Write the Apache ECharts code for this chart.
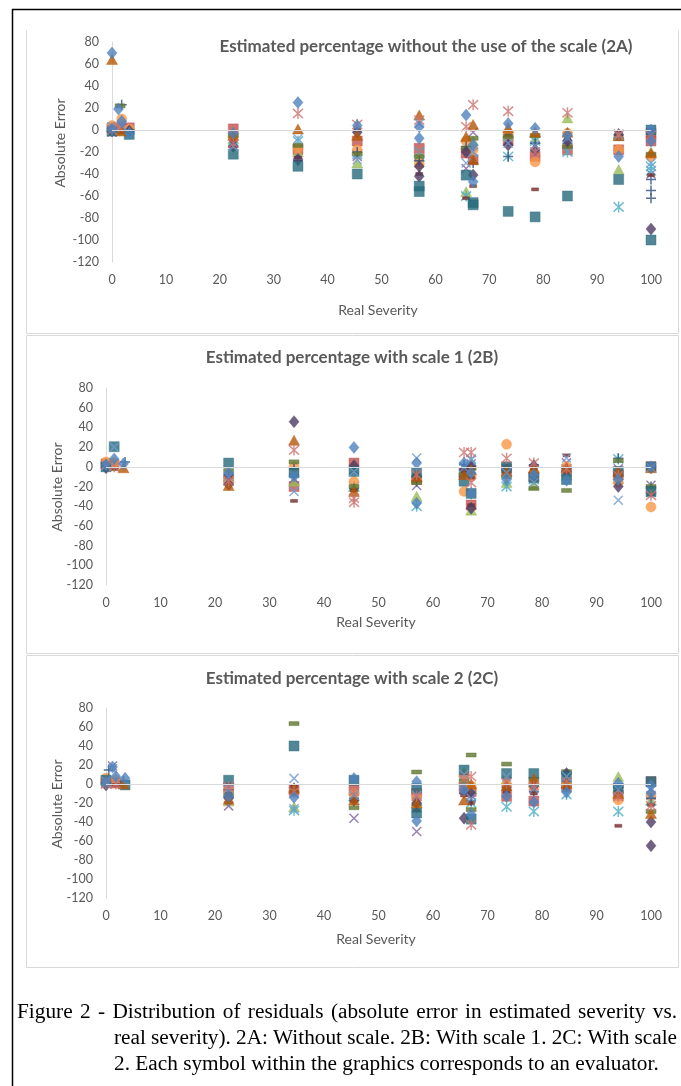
<!DOCTYPE html>
<html><head><meta charset="utf-8">
<script src="https://cdn.jsdelivr.net/npm/echarts@6/dist/echarts.min.js"></script>
<style>html,body{margin:0;padding:0;background:#fff}#c{width:681px;height:1086px}</style>
</head><body><div id="c"></div>
<script>
// ---------- axis ticks ----------
const xTicks = [0,10,20,30,40,50,60,70,80,90,100];
const yTicks = [-120,-100,-80,-60,-40,-20,0,20,40,60,80];

// ---------- titles ----------
const panelTitles = [
  'Estimated percentage without the use of the scale (2A)',
  'Estimated percentage with scale 1 (2B)',
  'Estimated percentage with scale 2 (2C)'
];
const xAxisTitle = 'Real Severity';
const yAxisTitle = 'Absolute Error';
const captionLines = [
  'Figure 2 - Distribution of residuals (absolute error in estimated severity vs.',
  'real severity). 2A: Without scale. 2B: With scale 1. 2C: With scale',
  '2. Each symbol within the graphics corresponds to an evaluator.'
];

// ---------- 2A : [real severity, absolute error] per evaluator ----------
const A_e1  = [[0,70],[1.2,19],[1.8,8],[0,1],[3.2,-3],[22.5,-3],[34.5,25],[45.5,4],[57,3],[57,-7.5],[65.7,13.6],[67,-13.6],[67,-47],[73.5,6],[78.5,1.5],[84.5,-5],[94,-24],[100,0],[100,-10]];
const A_e2  = [[0,2],[1.8,1],[3.2,2],[22.5,1],[34.5,-18],[45.5,-10],[57,-16.6],[65.7,-21],[67,-27],[73.5,-10],[78.5,-24],[84.5,-18],[94,-18],[100,-10],[100,-3]];
const A_e3  = [[0,3],[1.8,0],[22.5,-8],[34.5,-20],[45.5,-30],[57,-24],[65.7,-56],[67,-10],[73.5,-5],[78.5,-8],[84.5,11],[94,-36],[100,-20]];
const A_e4  = [[0,-2],[1.8,2],[22.5,-12],[34.5,-22],[45.5,-24],[57,-30],[65.7,-35],[67,-2],[73.5,-9],[78.5,-15],[84.5,-6],[94,-4],[100,-40]];
const A_e5  = [[0,1],[3.2,0],[22.5,-10],[34.5,-10],[45.5,-22],[57,-20],[65.7,-60],[67,-20],[73.5,-24],[78.5,-10],[84.5,-20],[94,-70],[100,-33],[100,-37]];
const A_e6  = [[0,4],[1.8,10],[3.2,1],[22.5,-6],[34.5,-17],[45.5,-18],[57,-31],[65.7,-10],[67,-18],[73.5,-3],[78.5,-29],[84.5,-3],[94,-18],[100,-24]];
const A_e7  = [[1.8,23],[0,-1],[22.5,-15],[34.5,-28],[45.5,-20],[57,-28],[65.7,-15],[67,-30],[73.5,-24],[78.5,-12],[84.5,-12],[94,-5],[100,-45],[100,-55],[100,-62]];
const A_e8  = [[1.8,-2],[22.5,-10],[34.5,-25],[45.5,0],[57,-40],[65.7,-62],[67,-51],[73.5,-4.8],[78.5,-54],[84.5,-9],[94,-3],[100,-41]];
const A_e9  = [[1.5,22],[0,0],[22.5,-5],[34.5,-14],[45.5,-22],[57,-24],[65.7,-16.6],[67,-7.5],[73.5,-6],[78.5,-5],[84.5,-15],[94,-8],[100,-22]];
const A_e10 = [[0,-1],[3.2,-1],[22.5,-15],[34.5,-27],[45.5,-2],[57,-33],[57,-42],[65.7,-20],[67,-41],[73.5,-13.6],[78.5,-18],[84.5,-10],[94,-4],[100,-90]];
const A_e11 = [[0,-1],[3.2,-4],[22.5,-22],[34.5,-33],[45.5,-40],[57,-51],[57,-56],[65.7,-41],[67,-66],[67,-68],[73.5,-74],[78.5,-79],[84.5,-60],[94,-45],[100,0],[100,-100]];
const A_e12 = [[0,64],[1.8,-1],[22.5,-5],[34.5,1],[45.5,-5],[57,13.6],[65.7,-6],[67,5],[67,-27],[73.5,2],[78.5,-2],[84.5,-2],[94,-5],[100,-21]];
const A_e13 = [[0,3],[1.8,4],[22.5,-15],[34.5,-8],[45.5,-27],[57,6],[65.7,-30],[67,-20],[73.5,-12],[78.5,-14],[84.5,-7],[94,-5],[100,-30]];
const A_e14 = [[0,0],[1.2,3],[22.5,-12],[34.5,15],[45.5,5],[57,9],[57,-18],[65.7,3],[67,23],[73.5,17],[78.5,-20],[84.5,15.6],[94,-4],[100,-5]];

// ---------- 2B ----------
const B_e1  = [[0,2],[1.5,8],[3.2,3],[22.5,-6.4],[34.5,-9.7],[45.5,19.7],[57,3.8],[57,-37],[65.7,3.8],[67,-6.4],[67,-27],[73.5,-13],[78.5,-8],[84.5,-13.6],[94,-13],[100,0]];
const B_e2  = [[0,3],[1.5,2],[22.5,-12],[34.5,-20],[45.5,3.8],[57,-13],[65.7,-6.4],[67,-38.8],[73.5,-2],[78.5,-10],[84.5,-5],[94,-8],[100,0]];
const B_e3  = [[0,4],[1.5,1],[22.5,-10],[34.5,-14.6],[45.5,-20],[57,-30],[65.7,-2],[67,-44],[73.5,-16],[78.5,-18],[84.5,-8],[94,-12],[100,-22]];
const B_e4  = [[0,1],[22.5,-13],[34.5,-12],[45.5,-3],[57,-19],[65.7,-8],[67,3],[73.5,-5],[78.5,-4],[84.5,4],[94,-2],[100,-18.7]];
const B_e5  = [[0,0],[22.5,-14],[34.5,-5],[45.5,-20],[57,-40],[65.7,0],[67,8],[73.5,-20],[78.5,-13],[84.5,-4],[94,8],[100,-26]];
const B_e6  = [[0,5],[1.5,4],[22.5,-13],[34.5,0],[45.5,-15],[57,-13],[65.7,-25],[67,-10],[73.5,22.8],[78.5,-6],[84.5,0],[94,-16],[100,-40.8]];
const B_e7  = [[3.5,5],[22.5,-8],[34.5,-2],[45.5,-22],[57,-15],[65.7,2],[67,-3],[73.5,-6],[78.5,2],[84.5,-2],[94,8.6],[100,-20]];
const B_e8  = [[1.5,-2],[22.5,-11],[34.5,-34.6],[45.5,-24],[57,-8],[65.7,-4],[67,-11],[67,-39],[73.5,-8],[78.5,-2],[84.5,11.6],[94,-10],[100,-28]];
const B_e9  = [[0,3],[22.5,-4],[34.5,5],[45.5,-20],[57,-16],[65.7,-8],[67,-1],[73.5,-10],[78.5,-22],[84.5,-24],[94,6.2],[100,-20]];
const B_e10 = [[0,-1],[22.5,-18],[34.5,45.8],[45.5,1],[57,-10],[65.7,-2.9],[67,1],[67,-42],[73.5,-3],[78.5,1],[84.5,-4.7],[94,-20],[100,-1]];
const B_e11 = [[1.5,20.4],[0,0],[22.5,3.8],[34.5,-6],[45.5,-4.7],[57,-6.4],[65.7,-14.6],[67,-27],[73.5,0],[78.5,-11],[84.5,-13],[94,-4.7],[100,0],[100,-25]];
const B_e12 = [[3.2,-1],[22.5,-19],[34.5,27],[45.5,-25],[57,-10],[65.7,-8],[67,-3],[73.5,-4.7],[78.5,-1.4],[84.5,-1],[94,-4.7],[100,-1]];
const B_e13 = [[1.5,20],[0,1],[22.5,-9.7],[34.5,-25],[45.5,-4.7],[57,9],[65.7,-1],[67,7],[73.5,-6],[78.5,-16],[84.5,9],[94,-34],[100,-1]];
const B_e14 = [[1.5,0],[0,2],[22.5,-14.6],[34.5,17],[45.5,-32],[45.5,-36],[57,-8],[65.7,14.6],[67,14.6],[67,-16],[73.5,8.6],[78.5,3.8],[84.5,-2],[94,-9],[100,-29]];

// ---------- 2C ----------
const C_e1  = [[0,2],[1.2,18],[1.8,8],[3.5,6],[22.5,-13],[34.5,-14],[45.5,5.9],[57,2.5],[57,-39],[65.7,-6.3],[67,-32],[73.5,-13],[78.5,-19],[84.5,-8.8],[94,0.7],[100,-1.8],[100,-9.8]];
const C_e2  = [[0,3],[1.8,1],[22.5,-4],[34.5,-6],[45.5,-6.3],[57,-9.8],[65.7,-4],[67,-8],[73.5,-13],[78.5,-18],[84.5,-3],[94,-12],[100,2.5]];
const C_e3  = [[0,5],[22.5,-18],[34.5,-24],[45.5,-12],[57,-18],[65.7,13],[67,-5],[73.5,5],[78.5,2],[84.5,4],[94,7.8],[100,-16.8]];
const C_e4  = [[1.2,19],[0,2],[22.5,-23],[34.5,-10],[45.5,-36],[57,-50],[65.7,-5],[67,-12],[73.5,3],[78.5,-5],[84.5,6],[94,-6],[100,-12]];
const C_e5  = [[0,1],[22.5,-10],[34.5,-28],[45.5,-14],[57,-25],[65.7,2],[67,-20],[73.5,-24],[78.5,-29],[84.5,-11],[94,-29],[100,-18]];
const C_e6  = [[0,6],[1.8,4],[22.5,-8],[34.5,-6],[45.5,-10],[57,-15],[65.7,7.8],[67,-2],[73.5,-1],[78.5,-3],[84.5,-1.8],[94,-16.8],[100,-12]];
const C_e7  = [[0.5,14.7],[3.2,3],[22.5,-6],[34.5,-4],[45.5,-15],[57,-22],[65.7,-10],[67,-18],[73.5,-6],[78.5,-8],[84.5,-2],[94,-4],[100,-15]];
const C_e8  = [[1.8,-1],[22.5,-10],[34.5,-2],[45.5,-18],[57,-28],[65.7,-12],[67,-20],[73.5,-8],[78.5,-10],[84.5,-4.2],[94,-44],[100,-22]];
const C_e9  = [[0,2],[22.5,-12],[34.5,63.6],[45.5,-25],[57,12.6],[65.7,3],[67,30.5],[67,-27],[73.5,21],[78.5,5],[84.5,13],[94,-2],[100,-29]];
const C_e10 = [[0,-1],[22.5,-15],[34.5,-8],[45.5,-17],[57,-20],[65.7,-36],[67,-10],[73.5,-4],[78.5,-2],[84.5,11],[94,-8.8],[100,-40],[100,-65]];
const C_e11 = [[3.5,-1],[0,4],[22.5,4],[34.5,40],[45.5,4],[57,-4.6],[57,-30.5],[65.7,14.7],[67,-37],[73.5,11],[78.5,11],[84.5,7.8],[94,-4.6],[100,2.5]];
const C_e12 = [[3.2,0],[22.5,-16],[34.5,-4.6],[45.5,-16.8],[57,-20],[65.7,-16.8],[67,0],[73.5,-2],[78.5,5.9],[84.5,0.7],[94,-10],[100,-31]];
const C_e13 = [[1.2,16],[0,3],[22.5,-5],[34.5,5.9],[34.5,-26],[45.5,-12],[57,-12],[65.7,10],[67,-15],[73.5,7.8],[78.5,-5],[84.5,8],[94,-6],[100,-5]];
const C_e14 = [[1.8,0],[0,0],[22.5,-2.8],[34.5,-8],[45.5,-8],[57,-13],[65.7,5],[67,7.8],[67,-43],[73.5,1.4],[78.5,-2],[84.5,2],[94,-13],[100,-23]];

const panelData = [
  [A_e1,A_e2,A_e3,A_e4,A_e5,A_e6,A_e7,A_e8,A_e9,A_e10,A_e11,A_e12,A_e13,A_e14],
  [B_e1,B_e2,B_e3,B_e4,B_e5,B_e6,B_e7,B_e8,B_e9,B_e10,B_e11,B_e12,B_e13,B_e14],
  [C_e1,C_e2,C_e3,C_e4,C_e5,C_e6,C_e7,C_e8,C_e9,C_e10,C_e11,C_e12,C_e13,C_e14]
];

// ---------- marker styles (Excel automatic markers) ----------
const SYM_X = 'path://M0,0L10,10M10,0L0,10';
const SYM_STAR = 'path://M0,1L10,11M10,1L0,11M5,0L5,12';
const SYM_PLUS = 'path://M5,0L5,10M0,5L10,5';
const markers = [
  {symbol:'diamond', color:'#4F81BD', size:[10,12]},
  {symbol:'rect', color:'#C0504D', size:10},
  {symbol:'triangle', color:'#9BBB59', size:[11,10]},
  {symbol:SYM_X, color:'#8064A2', size:9, stroke:true},
  {symbol:SYM_STAR, color:'#4BACC6', size:[10,11], stroke:true},
  {symbol:'circle', color:'#F79646', size:10},
  {symbol:SYM_PLUS, color:'#2C4D75', size:10, stroke:true},
  {symbol:'rect', color:'#772C2A', size:[7,3]},
  {symbol:'rect', color:'#5F7530', size:[10,4]},
  {symbol:'diamond', color:'#4D3B62', size:[10,12]},
  {symbol:'rect', color:'#276A7C', size:10},
  {symbol:'triangle', color:'#B65708', size:[11,10]},
  {symbol:SYM_X, color:'#729ACA', size:9, stroke:true},
  {symbol:SYM_STAR, color:'#CD7371', size:[10,11], stroke:true}
];

// ---------- layout ----------
const grids = [
  {left:112, top:42, width:539, height:220},
  {left:106, top:388, width:545, height:197},
  {left:106, top:708, width:545, height:190}
];
const AX = '#595959';
const LABEL_FONT = 'Lato, "Open Sans", sans-serif';

const chart = echarts.init(document.getElementById('c'), null, {renderer:'canvas', width:681, height:1086});

const xAxes = [], yAxes = [], series = [];
grids.forEach((g, i) => {
  xAxes.push({
    type:'value', gridIndex:i, min:xTicks[0], max:xTicks[xTicks.length-1], interval:xTicks[1]-xTicks[0],
    axisLine:{show:false}, axisTick:{show:false}, splitLine:{show:false},
    axisLabel:{color:AX, fontSize:12.5, fontFamily:LABEL_FONT, margin:11}
  });
  yAxes.push({
    type:'value', gridIndex:i, min:yTicks[0], max:yTicks[yTicks.length-1], interval:yTicks[1]-yTicks[0],
    axisLine:{show:true, lineStyle:{color:'#D9D9D9', width:1}}, axisTick:{show:false}, splitLine:{show:false},
    axisLabel:{color:AX, fontSize:12.5, fontFamily:LABEL_FONT, margin:13}
  });
  // zero line
  series.push({
    type:'line', xAxisIndex:i, yAxisIndex:i, data:[], silent:true, z:1,
    markLine:{silent:true, symbol:'none', label:{show:false},
      lineStyle:{color:'#D9D9D9', width:1, type:'solid'}, data:[{yAxis:0}], animation:false}
  });
  const order = [1,2,3,4,5,6,7,8,9,10,11,12,13,0];
  order.forEach(k => {
    const m = markers[k];
    series.push({
      type:'scatter', xAxisIndex:i, yAxisIndex:i, clip:false,
      name:'Evaluator ' + (k+1),
      symbol:m.symbol, symbolSize:m.size, symbolKeepAspect:false,
      itemStyle: m.stroke ? {color:'rgba(0,0,0,0)', borderColor:m.color, borderWidth:1.5}
                          : {color:m.color, borderColor:m.color, borderWidth:0.5},
      data: panelData[i][k],
      z: 3
    });
  });
});

const TITLE_FONT = 'bold 17px Lato, "Open Sans", sans-serif';
const AXT_FONT = '14px Lato, "Open Sans", sans-serif';
const panelBoxes = [
  {x:26, y:30, w:652, h:303, noTop:true},
  {x:26, y:335, w:652, h:318},
  {x:26, y:655, w:652, h:312}
];
const titlePos = [[426,47],[352,358],[352,679]];
const xTitlePos = [[378,310],[376,622],[376,939]];
const yTitlePos = [[60,143],[57,487],[57,804]];

const graphics = [];
// outer black frame
graphics.push({type:'line', shape:{x1:12, y1:9.5, x2:681, y2:9.5}, style:{stroke:'#000', lineWidth:1.5}, z:10});
graphics.push({type:'line', shape:{x1:12.5, y1:9, x2:12.5, y2:1086}, style:{stroke:'#000', lineWidth:1.5}, z:10});
panelBoxes.forEach(b => {
  const x0 = b.x + 0.5, y0 = b.y + 0.5, x1 = b.x + b.w + 0.5, y1 = b.y + b.h + 0.5;
  if (!b.noTop) graphics.push({type:'line', shape:{x1:x0,y1:y0,x2:x1,y2:y0}, style:{stroke:'#D9D9D9', lineWidth:1}});
  graphics.push({type:'line', shape:{x1:x0,y1:y0,x2:x0,y2:y1}, style:{stroke:'#D9D9D9', lineWidth:1}});
  graphics.push({type:'line', shape:{x1:x1,y1:y0,x2:x1,y2:y1}, style:{stroke:'#D9D9D9', lineWidth:1}});
  graphics.push({type:'line', shape:{x1:x0,y1:y1,x2:x1,y2:y1}, style:{stroke:'#D9D9D9', lineWidth:1}});
});
panelTitles.forEach((t, i) => {
  graphics.push({type:'text', x:titlePos[i][0], y:titlePos[i][1], z:5,
    style:{text:t, font:TITLE_FONT, fill:AX, align:'center', verticalAlign:'middle', textAlign:'center', textVerticalAlign:'middle'}});
  graphics.push({type:'text', x:xTitlePos[i][0], y:xTitlePos[i][1],
    style:{text:xAxisTitle, font:AXT_FONT, fill:AX, align:'center', verticalAlign:'middle', textAlign:'center', textVerticalAlign:'middle'}});
  graphics.push({type:'text', x:yTitlePos[i][0], y:yTitlePos[i][1], rotation:Math.PI/2,
    style:{text:yAxisTitle, font:AXT_FONT, fill:AX, align:'center', verticalAlign:'middle', textAlign:'center', textVerticalAlign:'middle'}});
});

// caption: justified paragraph (last line left-aligned)
const CAP_FONT = '21.3px "Liberation Serif", "Times New Roman", serif';
const capLayout = [{x:17, y:1012, right:677, justify:true},{x:114, y:1038, right:677, justify:true},{x:114, y:1064, justify:false}];
const mctx = document.createElement('canvas').getContext('2d');
mctx.font = CAP_FONT;
captionLines.forEach((t, i) => {
  const L = capLayout[i];
  if (!L.justify) {
    graphics.push({type:'text', x:L.x, y:L.y,
      style:{text:t, font:CAP_FONT, fill:'#000', align:'left', verticalAlign:'middle', textAlign:'left', textVerticalAlign:'middle'}});
    return;
  }
  const words = t.split(' ');
  const widths = words.map(w => mctx.measureText(w).width);
  const total = widths.reduce((a,b)=>a+b,0);
  const gap = (L.right - L.x - total) / (words.length - 1);
  let cx = L.x;
  words.forEach((w, j) => {
    graphics.push({type:'text', x:cx, y:L.y,
      style:{text:w, font:CAP_FONT, fill:'#000', align:'left', verticalAlign:'middle', textAlign:'left', textVerticalAlign:'middle'}});
    cx += widths[j] + gap;
  });
});

chart.setOption({
  animation:false,
  backgroundColor:'#ffffff',
  grid: grids.map(g => Object.assign({containLabel:false}, g)),
  xAxis: xAxes,
  yAxis: yAxes,
  series: series,
  graphic: {elements: graphics}
});
</script>
</body></html>
